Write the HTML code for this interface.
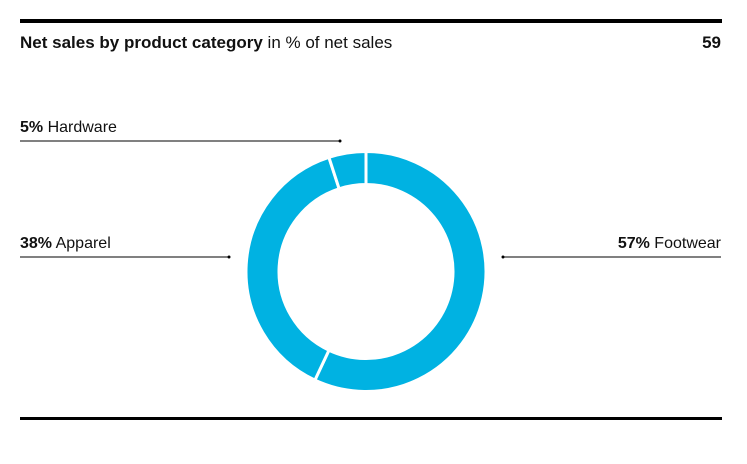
<!DOCTYPE html>
<html><head><meta charset="utf-8"><style>
body{margin:0;background:#fff;}
svg text{font-family:"Liberation Sans",sans-serif;fill:#111;}
</style></head><body>
<svg width="747" height="459" viewBox="0 0 747 459">
<rect x="20" y="19" width="702" height="4" fill="#000"/>
<text x="20" y="48" font-size="17"><tspan font-weight="bold">Net sales by product category</tspan> in % of net sales</text>
<text x="721" y="48" font-size="17" font-weight="bold" text-anchor="end">59</text>
<g id="donut"></g>
<g id="labels"></g>
<rect x="20" y="417" width="702" height="3" fill="#000"/>
</svg>
<script>
const categories=["Footwear","Apparel","Hardware"];
const values=[57,38,5];
const cx=366,cy=271.5,R=120,r=87;
const NS="http://www.w3.org/2000/svg";
const donut=document.getElementById('donut');
const total=values.reduce((a,b)=>a+b,0);
function pt(a,rad){return [cx+rad*Math.sin(a),cy-rad*Math.cos(a)];}
let start=0;
const mids=[];
values.forEach((v,i)=>{
  const end=start+v/total*2*Math.PI;
  const [x1,y1]=pt(start,R),[x2,y2]=pt(end,R),[x3,y3]=pt(end,r),[x4,y4]=pt(start,r);
  const large=(end-start)>Math.PI?1:0;
  const p=document.createElementNS(NS,'path');
  p.setAttribute('d',`M${x1},${y1}A${R},${R} 0 ${large} 1 ${x2},${y2}L${x3},${y3}A${r},${r} 0 ${large} 0 ${x4},${y4}Z`);
  p.setAttribute('fill','#00b2e2');
  p.setAttribute('stroke','#fff');
  p.setAttribute('stroke-width','3');
  
  
  donut.appendChild(p);
  mids.push((start+end)/2);
  start=end;
});
const labels=document.getElementById('labels');
// label layout: [text x, anchor, line x1, line x2, y]
const layout=[[721,'end',503,721,257],[20,'start',20,229,257],[20,'start',20,340,141]];
values.forEach((v,i)=>{
  const [tx,anc,lx1,lx2,ly]=layout[i];
  const t=document.createElementNS(NS,'text');
  t.setAttribute('x',tx);t.setAttribute('y',ly-9);
  t.setAttribute('font-size','16');t.setAttribute('text-anchor',anc);
  t.innerHTML=`<tspan font-weight="bold">${v}%</tspan> ${categories[i]}`;
  
  
  labels.appendChild(t);
  const l=document.createElementNS(NS,'line');
  l.setAttribute('x1',lx1);l.setAttribute('x2',lx2);l.setAttribute('y1',ly);l.setAttribute('y2',ly);
  l.setAttribute('stroke','#000');l.setAttribute('stroke-width','1');
  
  
  labels.appendChild(l);
  const d=document.createElementNS(NS,'circle');
  d.setAttribute('cx',anc==='end'?lx1:lx2);d.setAttribute('cy',ly);d.setAttribute('r','1.5');d.setAttribute('fill','#000');
  
  
  labels.appendChild(d);
});
</script>
</body></html>
